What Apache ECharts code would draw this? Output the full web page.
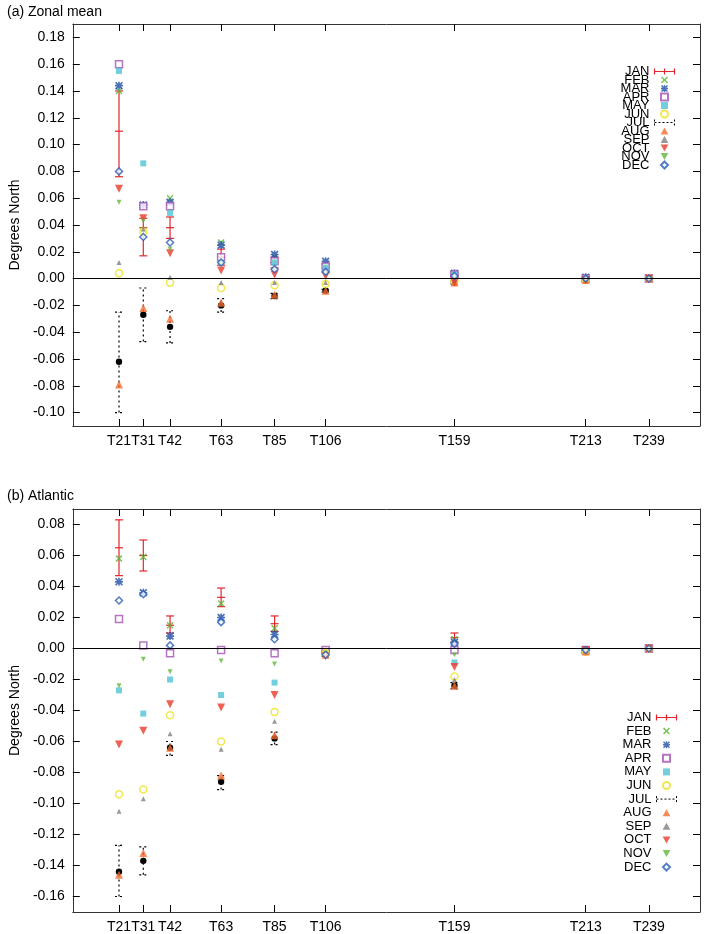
<!DOCTYPE html>
<html>
<head>
<meta charset="utf-8">
<script src="https://cdn.jsdelivr.net/npm/echarts@6/dist/echarts.min.js"></script>
<style>html,body{margin:0;padding:0;background:#fff}#c{width:712px;height:934px}</style>
</head>
<body>
<div id="c"></div>
<script>
// truncation (resolution) of each experiment
var truncs = [21, 31, 42, 63, 85, 106, 159, 213, 239];
var truncLabels = ['T21', 'T31', 'T42', 'T63', 'T85', 'T106', 'T159', 'T213', 'T239'];
var months = ['JAN','FEB','MAR','APR','MAY','JUN','JUL','AUG','SEP','OCT','NOV','DEC'];
var yTicksA = [-0.10,-0.08,-0.06,-0.04,-0.02,0,0.02,0.04,0.06,0.08,0.10,0.12,0.14,0.16,0.18];
var yTicksB = [-0.16,-0.14,-0.12,-0.10,-0.08,-0.06,-0.04,-0.02,0,0.02,0.04,0.06,0.08];

// (a) zonal mean
var zJAN    = [0.110, 0.038, 0.038, 0.016, 0.012, 0.008, 0.003, 0.000, 0.000];
var zJANlo  = [0.076, 0.017, 0.030, 0.010, 0.008, 0.005, 0.001, -0.001, -0.001];
var zJANhi  = [0.140, 0.045, 0.046, 0.022, 0.016, 0.011, 0.005, 0.001, 0.001];
var zFEB = [0.140, 0.036, 0.060, 0.027, 0.016, 0.010, 0.004, 0.001, 0.000];
var zMAR = [0.144, 0.055, 0.057, 0.025, 0.018, 0.013, 0.004, 0.001, 0.000];
var zAPR = [0.160, 0.054, 0.054, 0.016, 0.013, 0.009, 0.003, 0.000, 0.000];
var zMAY = [0.155, 0.086, 0.049, 0.012, 0.012, 0.008, 0.003, 0.000, 0.000];
var zJUN = [0.004, 0.035, -0.003, -0.007, -0.005, -0.004, -0.002, -0.001, 0.000];
var zJUL    = [-0.062, -0.027, -0.036, -0.020, -0.013, -0.009, -0.003, -0.001, 0.000];
var zJULlo  = [-0.100, -0.047, -0.048, -0.025, -0.015, -0.010, -0.004, -0.002, -0.001];
var zJULhi  = [-0.025, -0.007, -0.024, -0.015, -0.011, -0.008, -0.002, 0.000, 0.001];
var zAUG = [-0.079, -0.022, -0.030, -0.018, -0.012, -0.009, -0.003, -0.001, 0.000];
var zSEP = [0.012, 0.037, 0.001, -0.003, -0.003, -0.003, -0.001, 0.000, 0.000];
var zOCT = [0.067, 0.045, 0.019, 0.006, 0.003, 0.002, -0.003, -0.001, 0.000];
var zNOV = [0.057, 0.043, 0.022, 0.011, 0.007, 0.004, 0.001, 0.000, 0.000];
var zDEC = [0.080, 0.031, 0.027, 0.012, 0.007, 0.005, 0.002, 0.000, 0.000];

// (b) Atlantic
var aJAN    = [0.065, 0.060, 0.015, 0.033, 0.016, -0.002, 0.007, -0.001, 0.000];
var aJANlo  = [0.047, 0.050, 0.010, 0.027, 0.011, -0.003, 0.004, -0.002, -0.001];
var aJANhi  = [0.083, 0.070, 0.021, 0.039, 0.021, -0.001, 0.010, 0.000, 0.001];
var aFEB = [0.058, 0.059, 0.015, 0.029, 0.013, -0.003, 0.006, -0.001, 0.000];
var aMAR = [0.043, 0.036, 0.008, 0.020, 0.009, -0.002, 0.004, -0.001, 0.000];
var aAPR = [0.019, 0.002, -0.003, -0.001, -0.003, -0.001, -0.001, -0.001, 0.000];
var aMAY = [-0.027, -0.042, -0.020, -0.030, -0.022, -0.003, -0.009, -0.001, 0.000];
var aJUN = [-0.094, -0.091, -0.043, -0.060, -0.041, -0.003, -0.018, -0.002, 0.000];
var aJUL    = [-0.144, -0.137, -0.064, -0.086, -0.058, -0.004, -0.024, -0.002, 0.000];
var aJULlo  = [-0.160, -0.146, -0.069, -0.091, -0.062, -0.005, -0.026, -0.003, -0.001];
var aJULhi  = [-0.127, -0.128, -0.060, -0.082, -0.054, -0.003, -0.022, -0.001, 0.001];
var aAUG = [-0.146, -0.132, -0.064, -0.082, -0.056, -0.004, -0.024, -0.002, 0.000];
var aSEP = [-0.105, -0.097, -0.055, -0.065, -0.047, -0.003, -0.020, -0.001, 0.000];
var aOCT = [-0.062, -0.053, -0.036, -0.038, -0.030, -0.005, -0.012, -0.001, 0.000];
var aNOV = [-0.024, -0.007, -0.015, -0.008, -0.010, -0.003, -0.004, -0.001, 0.000];
var aDEC = [0.031, 0.035, 0.002, 0.017, 0.006, -0.004, 0.003, -0.001, 0.000];

var FONT = 'Liberation Sans, Arial, sans-serif';
var colors = {JAN:'#e3262b',FEB:'#58b531',MAR:'#1f4ea6',APR:'#a352b4',MAY:'#4fc3d5',JUN:'#eee21e',
  JUL:'#000',AUG:'#f46b2e',SEP:'#7f7f7f',OCT:'#ec3a2a',NOV:'#64b83a',DEC:'#2b5db8'};
var xPath = 'path://M0,1.5L1.5,0L5,3.5L8.5,0L10,1.5L6.5,5L10,8.5L8.5,10L5,6.5L1.5,10L0,8.5L3.5,5Z';
var starPath = 'path://M0,1.5L1.5,0L5,3.5L8.5,0L10,1.5L6.5,5L10,8.5L8.5,10L5,6.5L1.5,10L0,8.5L3.5,5Z M4,0L6,0L6,10L4,10Z M0,4L10,4L10,6L0,6Z';
var rectPath = 'path://M0,0L10,0L10,10L0,10Z';
var triPath = 'path://M5,0L10,9L0,9Z';
var invTriPath = 'path://M0,0L10,0L5,9Z';
var diaPath = 'path://M5,0L10,5L5,10L0,5Z';
var symbols = {FEB:[xPath,7,false],MAR:[starPath,8,false],APR:[rectPath,7,true],MAY:[rectPath,6,false],
  JUN:['circle',7,true],AUG:[triPath,8,false],SEP:[triPath,5,false],OCT:[invTriPath,8,false],
  NOV:[invTriPath,5,false],DEC:[diaPath,7,true]};

function errRender(col, dashed) {
  return function (params, api) {
    var c = api.coord([api.value(0), api.value(1)]);
    var lo = api.coord([api.value(0), api.value(2)]);
    var hi = api.coord([api.value(0), api.value(3)]);
    var st = {stroke: col, lineWidth: 1.2, lineDash: dashed ? [2, 3] : null};
    var kids = [
      {type:'line', shape:{x1:c[0],y1:lo[1],x2:c[0],y2:hi[1]}, style:st},
      {type:'line', shape:{x1:c[0]-4,y1:lo[1],x2:c[0]+4,y2:lo[1]}, style:st},
      {type:'line', shape:{x1:c[0]-4,y1:hi[1],x2:c[0]+4,y2:hi[1]}, style:st}
    ];
    if (dashed) kids.push({type:'circle', shape:{cx:c[0],cy:c[1],r:3.2}, style:{fill:'#000'}});
    else kids.push({type:'line', shape:{x1:c[0]-4,y1:c[1],x2:c[0]+4,y2:c[1]}, style:{stroke:col,lineWidth:1.2}});
    return {type:'group', children:kids};
  };
}

function panel(idx, vals, jan, janLo, janHi, jul, julLo, julHi) {
  var out = [];
  function eb(name, v, lo, hi, dashed) {
    return {name:name, type:'custom', xAxisIndex:idx, yAxisIndex:idx, z:2,
      renderItem: errRender(colors[name], dashed), itemStyle:{color:colors[name]},
      data: truncs.map(function (t, i) { return [t, v[i], lo[i], hi[i]]; })};
  }
  out.push(eb('JAN', jan, janLo, janHi, false));
  months.forEach(function (m) {
    if (m === 'JAN') return;
    if (m === 'JUL') { out.push(eb('JUL', jul, julLo, julHi, true)); return; }
    var s = symbols[m];
    out.push({name:m, type:'scatter', xAxisIndex:idx, yAxisIndex:idx, z:3,
      symbol:s[0], symbolSize:s[1],
      itemStyle: s[2] ? {color:'#fff', borderColor:colors[m], borderWidth:1.5} : {color:colors[m]},
      data: truncs.map(function (t, i) { return [t, vals[m][i]]; })});
  });
  out[1].markLine = {silent:true, symbol:'none', label:{show:false},
    lineStyle:{color:'#000', type:'solid', width:1}, data:[{yAxis:0}]};
  return out;
}

function legendData() {
  return months.map(function (m) {
    if (m === 'JAN') return {name:m, icon:'path://M0,3L20,3M0,0L0,6M20,0L20,6M10,0L10,6', itemStyle:{color:'none',borderColor:colors.JAN,borderWidth:1.2}};
    if (m === 'JUL') return {name:m, icon:'path://M0,3L20,3M0,0L0,6M20,0L20,6', itemStyle:{color:'none',borderColor:'#000',borderWidth:1,borderType:[2,2]}};
    var s = symbols[m];
    var sz = s[1] >= 7 ? 'path://M5,-1L5,11' : 'path://M5,-3L5,13';
    return {name:m, icon:s[0]};
  });
}

var zVals = {FEB:zFEB,MAR:zMAR,APR:zAPR,MAY:zMAY,JUN:zJUN,AUG:zAUG,SEP:zSEP,OCT:zOCT,NOV:zNOV,DEC:zDEC};
var aVals = {FEB:aFEB,MAR:aMAR,APR:aAPR,MAY:aMAY,JUN:aJUN,AUG:aAUG,SEP:aSEP,OCT:aOCT,NOV:aNOV,DEC:aDEC};

function xAx(idx, pos, labels) {
  return {type:'value', gridIndex:idx, position:pos, min:2, max:260,
    axisLine:{show:true, onZero:false, lineStyle:{color:'#333', width:1}},
    axisTick:{show:true, inside:true, length:7, customValues:truncs, lineStyle:{color:'#000'}},
    axisLabel:{show:labels, customValues:truncs, color:'#000', fontSize:14, fontFamily:FONT, margin:8,
      formatter:function (v) { return truncLabels[truncs.indexOf(v)]; }},
    splitLine:{show:false}};
}
function yAx(idx, pos, min, max, ticks, labels, name) {
  return {type:'value', gridIndex:idx, position:pos, min:min, max:max,
    name:name, nameLocation:'middle', nameGap:44, nameTextStyle:{color:'#000', fontSize:14, fontFamily:FONT},
    axisLine:{show:true, lineStyle:{color:'#333', width:1}},
    axisTick:{show:true, inside:true, length:7, customValues:ticks, lineStyle:{color:'#000'}},
    axisLabel:{show:labels, customValues:ticks, color:'#000', fontSize:14, fontFamily:FONT, margin:8,
      formatter:function (v) { return v.toFixed(2); }},
    splitLine:{show:false}};
}

var chart = echarts.init(document.getElementById('c'));
chart.setOption({
  animation:false,
  textStyle:{fontFamily:FONT},
  title:[
    {text:'(a) Zonal mean', left:2, top:0, textStyle:{fontSize:14, fontWeight:'normal', color:'#000'}},
    {text:'(b) Atlantic', left:2, top:484, textStyle:{fontSize:14, fontWeight:'normal', color:'#000'}}
  ],
  grid:[
    {left:63, right:12, top:24, height:402},
    {left:63, right:12, top:509, height:404}
  ],
  legend:[
    {data:legendData(), orient:'vertical', align:'right', right:30, top:60, itemWidth:20, itemHeight:7, itemGap:-4.5,
      symbolKeepAspect:true, textStyle:{fontSize:13, color:'#000'}, selectedMode:false},
    {data:legendData(), orient:'vertical', align:'right', right:28, top:706, itemWidth:20, itemHeight:7, itemGap:0.6,
      symbolKeepAspect:true, textStyle:{fontSize:13, color:'#000'}, selectedMode:false}
  ],
  xAxis:[xAx(0,'bottom',true), xAx(1,'bottom',true), xAx(0,'top',false), xAx(1,'top',false)],
  yAxis:[yAx(0,'left',-0.11,0.19,yTicksA,true,'Degrees North'), yAx(1,'left',-0.17,0.09,yTicksB,true,'Degrees North'),
         yAx(0,'right',-0.11,0.19,yTicksA,false,''), yAx(1,'right',-0.17,0.09,yTicksB,false,'')],
  series: panel(0, zVals, zJAN, zJANlo, zJANhi, zJUL, zJULlo, zJULhi)
    .concat(panel(1, aVals, aJAN, aJANlo, aJANhi, aJUL, aJULlo, aJULhi))
});
</script>
</body>
</html>
